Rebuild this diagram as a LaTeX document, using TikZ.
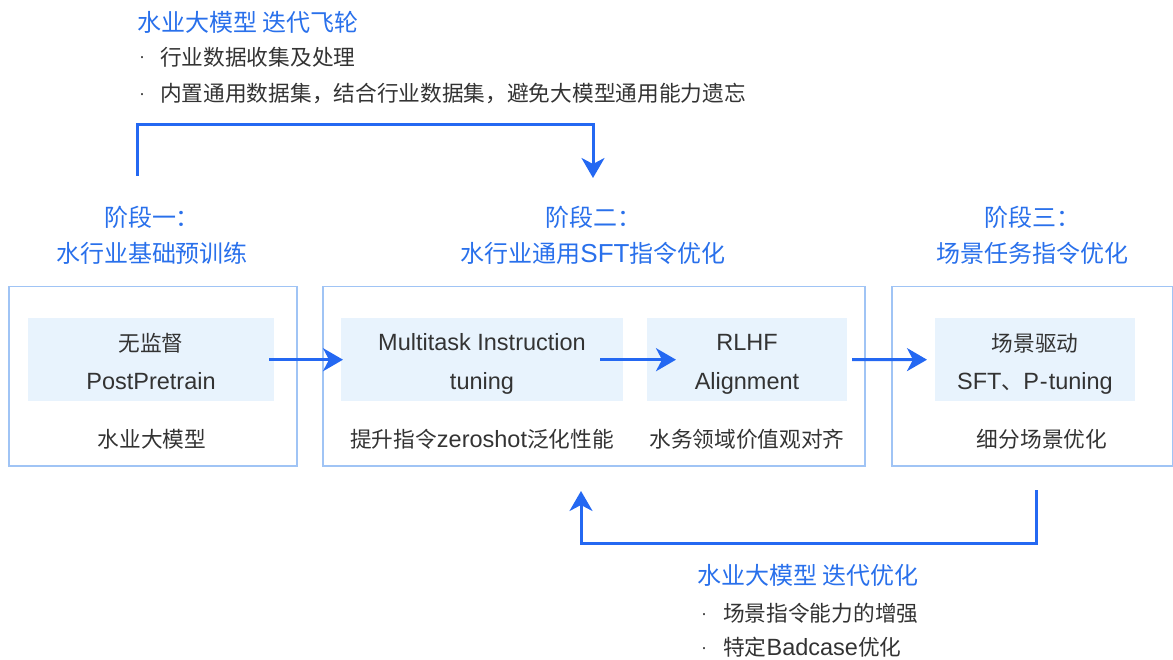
\documentclass[tikz,border=0pt]{standalone}
\usepackage{fontspec}
\setmainfont{Liberation Sans}
\newfontfamily\cjk{Noto Sans CJK SC}[Scale=0.923]
\usetikzlibrary{arrows.meta}
\definecolor{txt}{RGB}{51,51,51}
\definecolor{bluetxt}{RGB}{41,112,235}
\definecolor{arrc}{RGB}{36,104,242}
\definecolor{bordc}{RGB}{160,196,245}
\definecolor{innerc}{RGB}{232,243,253}
\newcommand\zh[1]{{\cjk #1}}
\begin{document}
\begin{tikzpicture}[x=1pt,y=-1pt,
  outerbox/.style={draw=bordc,line width=1.5pt,inner sep=0pt,anchor=north west,minimum height=179pt},
  innerbox/.style={fill=innerc,inner sep=0pt,anchor=north west,minimum height=83pt},
  body/.style={text=txt,font=\fontsize{23.5}{28}\selectfont,inner sep=0pt,anchor=base},
  dotmark/.style={text=txt,font=\fontsize{18}{20}\selectfont,inner sep=0pt,anchor=base},
  head/.style={text=bluetxt,font=\fontsize{26}{30}\selectfont,inner sep=0pt,anchor=base},
  arr/.style={draw=arrc,line width=3pt,-{Stealth[length=20pt,width=23pt,inset=6pt]}}]
\useasboundingbox (0,0) rectangle (1173,660);

% outer boxes
\node[outerbox,minimum width=288pt] (b1) at (8,286) {};
\node[outerbox,minimum width=542pt] (b2) at (322,286) {};
\node[outerbox,minimum width=281pt] (b3) at (891,286) {};

% inner boxes
\node[innerbox,minimum width=246pt] (in1) at (28,318) {};
\node[innerbox,minimum width=282pt] (inA) at (341,318) {};
\node[innerbox,minimum width=200pt] (inB) at (647,318) {};
\node[innerbox,minimum width=200pt] (in3) at (935,318) {};

% texts in boxes
\node[body] (t1a) at (151,351.5) {\zh{无监督}};
\node[body] (t1b) at (151,389) {PostPretrain};
\node[body] (t1c) at (152,447.5) {\zh{水业大模型}};

\node[body] (tAa) at (482,351) {Multitask Instruction};
\node[body] (tAb) at (482,389) {tuning};
\node[body] (tAc) at (482,447.5) {\zh{提升指令}zeroshot\zh{泛化性能}};

\node[body] (tBa) at (747,351) {RLHF};
\node[body] (tBb) at (747,389) {Alignment};
\node[body] (tBc) at (747,447.5) {\zh{水务领域价值观对齐}};

\node[body] (t3a) at (1035,352) {\zh{场景驱动}};
\node[body] (t3b) at (1035,389) {SFT\zh{、}P\kern1pt{-}\kern1pt tuning};
\node[body] (t3c) at (1042,447.5) {\zh{细分场景优化}};

% stage headings
\node[head] (h1a) at (152,226.5) {\zh{阶段一：}};
\node[head] (h1b) at (152,263) {\zh{水行业基础预训练}};
\node[head] (h2a) at (593,226.5) {\zh{阶段二：}};
\node[head] (h2b) at (593,263) {\zh{水行业通用}SFT\zh{指令优化}};
\node[head] (h3a) at (1032,226.5) {\zh{阶段三：}};
\node[head] (h3b) at (1032,263) {\zh{场景任务指令优化}};

% top note
\node[head,anchor=base west] (topT) at (137,32) {\zh{水业大模型 迭代飞轮}};
\node[dotmark] (topd1) at (142,63) {·};
\node[body,anchor=base west] (topl1) at (160,65.5) {\zh{行业数据收集及处理}};
\node[dotmark] (topd2) at (142,99.5) {·};
\node[body,anchor=base west] (topl2) at (160,102) {\zh{内置通用数据集，结合行业数据集，避免大模型通用能力遗忘}};

% bottom note
\node[head,anchor=base west] (botT) at (697,584) {\zh{水业大模型 迭代优化}};
\node[dotmark] (botd1) at (704,619) {·};
\node[body,anchor=base west] (botl1) at (723,621.5) {\zh{场景指令能力的增强}};
\node[dotmark] (botd2) at (704,653) {·};
\node[body,anchor=base west] (botl2) at (723,655.5) {\zh{特定}Badcase\zh{优化}};

% connectors
\draw[arr] ([xshift=-5pt]in1.east) -- ([xshift=2pt]inA.west);
\draw[arr] ([xshift=-23pt]inA.east) -- ([xshift=29pt]inB.west);
\coordinate (a3) at (852,359.5);
\draw[arr] (a3) -- ([xshift=-8pt]in3.west);

\coordinate (ls) at (137,176);
\coordinate (le) at (593,178);
\draw[arr] (ls) |- (365,125) -| (le);

\coordinate (bs) at (1036,490);
\coordinate (be) at (581,491);
\draw[arr] (bs) |- (800,543) -| (be);
\end{tikzpicture}
\end{document}
